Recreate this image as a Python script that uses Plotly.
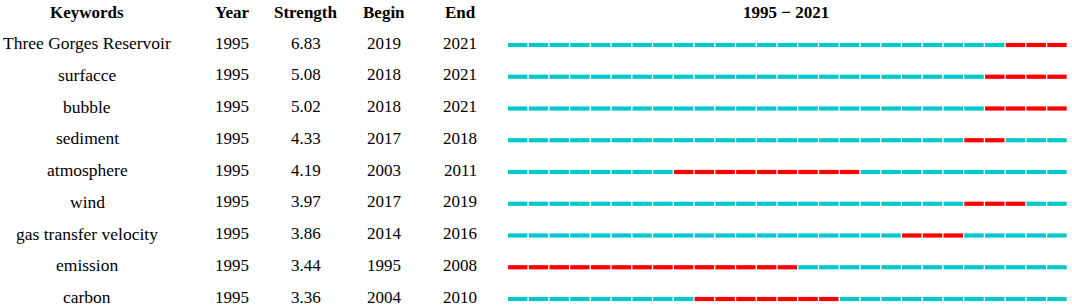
import plotly.graph_objects as go

keywords = ["Three Gorges Reservoir", "surfacce", "bubble", "sediment", "atmosphere",
            "wind", "gas transfer velocity", "emission", "carbon"]
year = [1995, 1995, 1995, 1995, 1995, 1995, 1995, 1995, 1995]
strength = [6.83, 5.08, 5.02, 4.33, 4.19, 3.97, 3.86, 3.44, 3.36]
begin = [2019, 2018, 2018, 2017, 2003, 2017, 2014, 1995, 2004]
end = [2021, 2021, 2021, 2018, 2011, 2019, 2016, 2008, 2010]
headers = ["Keywords", "Year", "Strength", "Begin", "End"]
span_start, span_end = 1995, 2021
title = "1995 − 2021"

W, H = 1072, 307
CYAN = "#00C8CB"
RED = "#FF0000"
FONT = "Liberation Serif"

# layout constants (pixels)
row0_px, row_step = 45.0, 31.75
bar_left_px, bar_right_px = 508.0, 1068.0
col_centers_px = [87, 232, 306, 384, 460]
header_px = 12.5
title_center_px = 786
text_shift_px = 2

years = list(range(span_start, span_end + 1))
px_per_year = (bar_right_px - bar_left_px) / len(years)
x0 = span_start - bar_left_px / px_per_year
x1 = x0 + W / px_per_year
y_top = -row0_px / row_step
y_bot = (H - row0_px) / row_step

gap = 1.3 / px_per_year
ys, bases, lens, cols = [], [], [], []
for i in range(len(keywords)):
    for yr in years:
        ys.append(i)
        bases.append(yr)
        lens.append(1 - gap)
        cols.append(RED if begin[i] <= yr <= end[i] else CYAN)

fig = go.Figure(go.Bar(
    orientation="h", y=ys, x=lens, base=bases,
    marker=dict(color=cols, line=dict(width=0)),
    width=4.2 / row_step, hoverinfo="skip", showlegend=False,
))

annotations = []
hdr_y = (header_px - row0_px) / row_step
for c, h in zip(col_centers_px, headers):
    annotations.append(dict(x=c / W, xref="paper", y=hdr_y, yref="y", text=f"<b>{h}</b>",
                            showarrow=False, xanchor="center", yanchor="middle",
                            font=dict(family=FONT, size=17, color="black")))
annotations.append(dict(x=title_center_px / W, xref="paper", y=hdr_y, yref="y",
                        text=f"<b>{title}</b>", showarrow=False, xanchor="center",
                        yanchor="middle", font=dict(family=FONT, size=17, color="black")))
for i in range(len(keywords)):
    vals = [keywords[i], str(year[i]), f"{strength[i]:.2f}", str(begin[i]), str(end[i])]
    for j, (c, v) in enumerate(zip(col_centers_px, vals)):
        annotations.append(dict(x=c / W, xref="paper", y=i, yref="y", text=v,
                                showarrow=False, xanchor="center", yanchor="middle",
                                yshift=text_shift_px,
                                font=dict(family=FONT, size=17.5 if j == 0 else 17,
                                          color="black")))

fig.update_layout(
    width=W, height=H, margin=dict(l=0, r=0, t=0, b=0, pad=0),
    paper_bgcolor="white", plot_bgcolor="white",
    barmode="overlay",
    xaxis=dict(range=[x0, x1], visible=False, fixedrange=True),
    yaxis=dict(range=[y_bot, y_top], visible=False, fixedrange=True),
    annotations=annotations,
)
fig.write_html("out.html", config={"displayModeBar": False},
               post_script="document.body.style.margin='0';document.body.style.overflow='hidden';")
